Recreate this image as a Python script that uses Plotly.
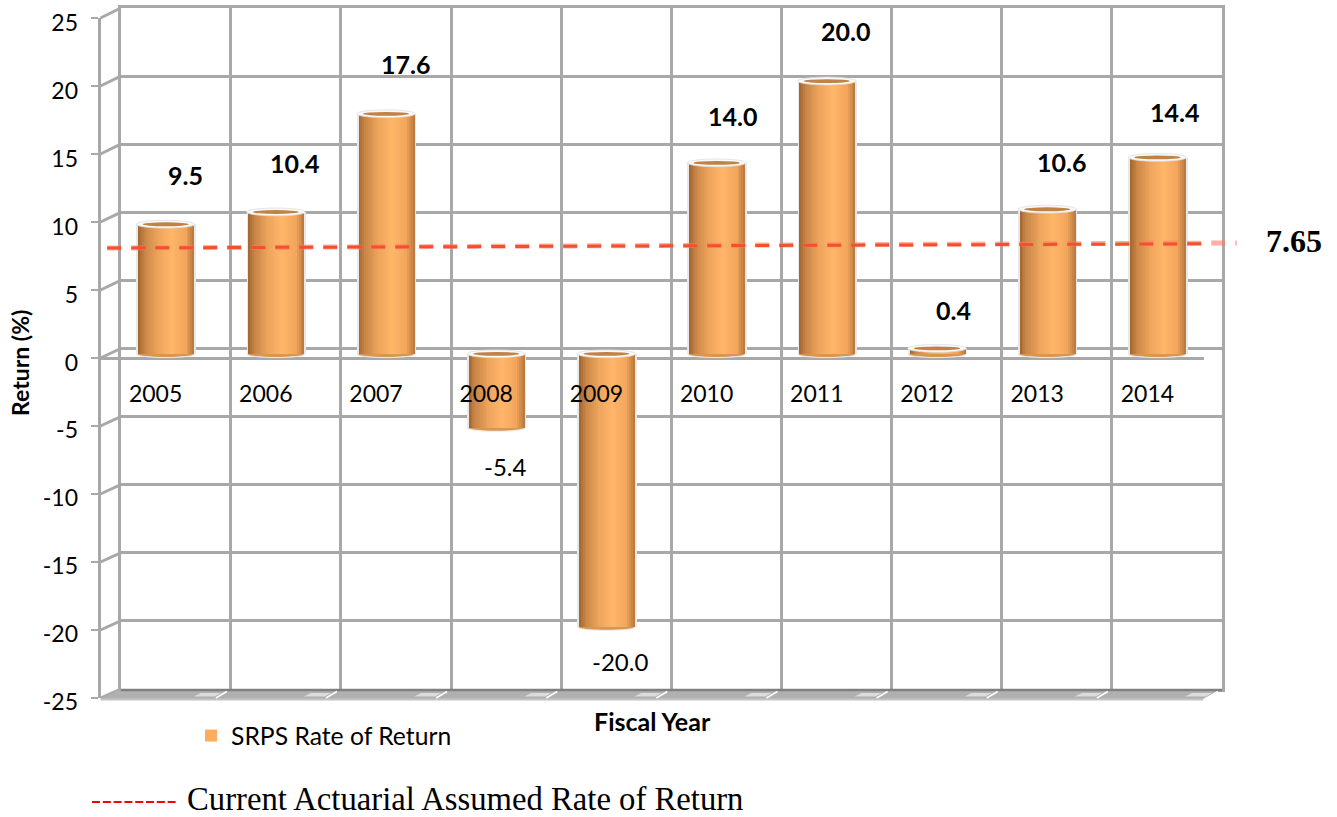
import plotly.graph_objects as go

# ---- data ----
years = ["2005", "2006", "2007", "2008", "2009", "2010", "2011", "2012", "2013", "2014"]
srps_return = [9.5, 10.4, 17.6, -5.4, -20.0, 14.0, 20.0, 0.4, 10.6, 14.4]
assumed_x = [-0.53, 9.42, 9.72]
assumed_y = [7.77, 8.08, 8.14]
y_ticks = [25, 20, 15, 10, 5, 0, -5, -10, -15, -20, -25]

# ---- style / placement ----
W, H = 1337, 817
GRID = "#a8a8a8"
GW = 3
SANS = "Lato"
SERIF = "Liberation Serif"
label_shift_x = [20, 19, 19, 9, 14, 16, 19, 16, 14, 17]
label_shift_y = [49, 49, 50, -39, -35, 47, 50, 39, 47, 46]


def X(p):
    return p / W


def Y(p):
    return 1 - p / H


def hexmix(a, b, t):
    ca = [int(a[i:i + 2], 16) for i in (1, 3, 5)]
    cb = [int(b[i:i + 2], 16) for i in (1, 3, 5)]
    return "#%02x%02x%02x" % tuple(round(p + (q - p) * t) for p, q in zip(ca, cb))


stops = [(0.0, "#a2642f"), (0.12, "#c98648"), (0.35, "#eda45c"), (0.6, "#ffb669"),
         (0.85, "#f2a65c"), (1.0, "#b5763c")]


def shade(t):
    for (p0, c0), (p1, c1) in zip(stops, stops[1:]):
        if t <= p1:
            return hexmix(c0, c1, (t - p0) / (p1 - p0))
    return stops[-1][1]


n = len(years)
xs = list(range(n))
BAR_W = 0.508
fig = go.Figure()

# back wall subplot (x/y)
fig.add_trace(go.Scatter(x=[0], y=[0], mode="none", showlegend=False, hoverinfo="skip", xaxis="x", yaxis="y"))
# front plane subplot (x2/y2)
fig.add_trace(go.Scatter(x=[0], y=[0], mode="none", showlegend=False, hoverinfo="skip", xaxis="x2", yaxis="y2"))

# cylinder bars (x3/y3): a halo, then thin strips building the horizontal shading
fig.add_trace(go.Bar(x=xs, y=srps_return, xaxis="x3", yaxis="y3", width=BAR_W + 0.03, offset=-(BAR_W + 0.03) / 2,
                     marker=dict(color="#e8e8e8", line=dict(width=0)), showlegend=False, hoverinfo="skip"))
STRIPS = 30
dw = BAR_W / STRIPS
for k in range(STRIPS):
    fig.add_trace(go.Bar(x=xs, y=srps_return, xaxis="x3", yaxis="y3", width=dw * 1.1,
                         offset=-BAR_W / 2 + k * dw, marker=dict(color=shade((k + 0.5) / STRIPS), line=dict(width=0)),
                         showlegend=False, hoverinfo="skip"))
# legend entry
fig.add_trace(go.Bar(x=[None], y=[None], xaxis="x3", yaxis="y3", name="SRPS Rate of Return",
                     marker=dict(color="#fdab5f", line=dict(width=0)), showlegend=True, hoverinfo="skip"))

# assumed-rate line, on a wider subplot (x4/y4) so it can run past the walls
fig.add_trace(go.Scatter(x=[assumed_x[0], assumed_x[-1]], y=[assumed_y[0], assumed_y[-1]], mode="lines", xaxis="x4", yaxis="y4",
                         line=dict(color="rgba(255,120,100,0.6)", width=5, dash="14px,10px"),
                         showlegend=False, hoverinfo="skip"))
fig.add_trace(go.Scatter(x=assumed_x[:2], y=assumed_y[:2], mode="lines", xaxis="x4", yaxis="y4",
                         line=dict(color="#f5502c", width=3, dash="14px,10px"),
                         showlegend=False, hoverinfo="skip"))

# label subplot (x5/y5) drawn on top of bars
fig.add_trace(go.Scatter(x=[0], y=[0], mode="none", showlegend=False, hoverinfo="skip", xaxis="x5", yaxis="y5"))

hidden = dict(showgrid=False, zeroline=False, showline=False, showticklabels=False, ticks="")
fig.update_layout(
    width=W, height=H, margin=dict(l=0, r=0, t=0, b=0, autoexpand=False),
    paper_bgcolor="white", plot_bgcolor="rgba(0,0,0,0)", barmode="overlay", bargap=0,
    font=dict(family=SANS, color="black"),
    xaxis=dict(domain=[X(120.7), X(1222)], range=[-0.5, 9.5], tick0=-0.5, dtick=1, showgrid=True, gridcolor=GRID, gridwidth=GW,
               zeroline=False, showticklabels=False, ticks="", showline=True, linecolor=GRID, linewidth=GW, mirror=True, anchor="y"),
    yaxis=dict(domain=[Y(689), Y(8)], range=[-25, 25], tick0=0, dtick=5, showgrid=True, gridcolor=GRID, gridwidth=GW,
               zeroline=False, showticklabels=False, ticks="", showline=True, linecolor=GRID, linewidth=GW, mirror=True, anchor="x"),
    xaxis2=dict(domain=[X(100.5), X(1204)], range=[-0.5, 9.52], anchor="y2", **hidden),
    yaxis2=dict(domain=[Y(698), Y(18)], range=[-25, 25], tickvals=y_ticks, anchor="x2", showgrid=False, showticklabels=False,
                zeroline=True, zerolinecolor=GRID, zerolinewidth=GW, showline=True, linecolor=GRID, linewidth=GW,
                ticks="outside", ticklen=7, tickcolor=GRID, tickwidth=2),
    xaxis3=dict(domain=[X(110.5), X(1212.5)], range=[-0.5, 9.5], anchor="y3", **hidden),
    yaxis3=dict(domain=[Y(695), Y(13)], range=[-25, 25], anchor="x3", **hidden),
    xaxis4=dict(domain=[X(100.4), X(1240.6)], range=[-0.592, 9.755], anchor="y4", **hidden),
    yaxis4=dict(domain=[Y(695), Y(13)], range=[-25, 25], anchor="x4", **hidden),
    xaxis5=dict(domain=[X(100.5), X(1202.5)], range=[-0.5, 9.5], tickmode="array", tickvals=xs, ticktext=years,
                anchor="free", position=Y(378), showgrid=False, zeroline=False, showline=False, ticks="",
                tickfont=dict(family=SANS, size=23, color="black")),
    yaxis5=dict(domain=[Y(702), Y(23)], range=[-25, 25], tickmode="array", tickvals=y_ticks, ticktext=[str(t) for t in y_ticks],
                anchor="free", position=X(78), showgrid=False, zeroline=False, showline=False, ticks="",
                tickfont=dict(family=SANS, size=23, color="black")),
    legend=dict(x=X(191), y=Y(736), xanchor="left", yanchor="middle", bgcolor="rgba(0,0,0,0)",
                font=dict(family=SANS, size=24.7, color="black")),
)

shapes = []
# connectors between front plane and back wall
for j in range(len(y_ticks)):
    yf = 18 + j * 68
    yb = 8 + j * 68.1
    shapes.append(dict(type="line", xref="paper", yref="paper", x0=X(100.5), x1=X(120.7), y0=Y(yf), y1=Y(yb),
                       line=dict(color=GRID, width=GW), layer="below"))
# floor
shapes.append(dict(type="path", xref="paper", yref="paper", layer="above", line=dict(width=0), fillcolor="#b0b0b0",
                   path=f"M{X(120.7)},{Y(689)} L{X(1222)},{Y(689)} L{X(1203)},{Y(699)} L{X(100.5)},{Y(699)} Z"))
shapes.append(dict(type="line", xref="paper", yref="paper", x0=X(120.7), x1=X(1222), y0=Y(690), y1=Y(690),
                   line=dict(color="#808080", width=2.5), layer="above"))
shapes.append(dict(type="line", xref="paper", yref="paper", x0=X(100.5), x1=X(1203), y0=Y(699.5), y1=Y(699.5),
                   line=dict(color="#c4c4c4", width=2), layer="above"))
for i in range(n):
    xr = 120.7 + (i + 1) * 110.13
    shapes.append(dict(type="path", xref="paper", yref="paper", layer="above", line=dict(width=0), fillcolor="#dcdcdc",
                       path=f"M{X(xr - 30)},{Y(693)} L{X(xr - 10)},{Y(693)} L{X(xr - 16)},{Y(696.5)} L{X(xr - 37)},{Y(696.5)} Z"))
    shapes.append(dict(type="line", xref="paper", yref="paper", x0=X(xr - 4), x1=X(xr - 15), y0=Y(691.5), y1=Y(698),
                       line=dict(color="white", width=1.5), layer="above"))
# cylinder ends computed from the data
for i, v in enumerate(srps_return):
    base_h = 0.22
    end = 0 if v > 0 else v
    shapes.append(dict(type="circle", xref="x3", yref="y3", layer="below", x0=i - BAR_W / 2 - 0.012, x1=i + BAR_W / 2 + 0.012,
                       y0=end - base_h - 0.08, y1=end + base_h, fillcolor="#e8e8e8", line=dict(width=0)))
    shapes.append(dict(type="circle", xref="x3", yref="y3", layer="below", x0=i - BAR_W / 2, x1=i + BAR_W / 2,
                       y0=end - base_h, y1=end + base_h, fillcolor="#d99650", line=dict(width=0)))
    top = v if v > 0 else 0
    shapes.append(dict(type="circle", xref="x3", yref="y3", layer="above", x0=i - BAR_W / 2 - 0.012, x1=i + BAR_W / 2 + 0.012,
                       y0=top - 0.27, y1=top + 0.3, fillcolor="#f9f9f9", line=dict(color="#dddddd", width=0.75)))
    shapes.append(dict(type="circle", xref="x3", yref="y3", layer="above", x0=i - BAR_W / 2 + 0.045, x1=i + BAR_W / 2 - 0.045,
                       y0=top - 0.13, y1=top + 0.15, fillcolor="#c08344", line=dict(width=0)))
# legend key of the assumed-rate line
shapes.append(dict(type="line", xref="paper", yref="paper", x0=X(92), x1=X(176), y0=Y(802), y1=Y(802),
                   line=dict(color="#ff0000", width=2, dash="8px,2.8px")))
fig.update_layout(shapes=shapes)

ann = []
for i, v in enumerate(srps_return):
    ann.append(dict(x=i, y=v, xref="x3", yref="y3", text=f"{v:.1f}", showarrow=False, xshift=label_shift_x[i], yshift=label_shift_y[i],
                    font=dict(family=SANS, size=25 if v > 0 else 24, color="black", weight=("bold" if v > 0 else "normal"))))
ann.append(dict(x=X(20), y=Y(363), xref="paper", yref="paper", xanchor="center", yanchor="middle", text="Return (%)", textangle=-90, showarrow=False,
                font=dict(family=SANS, size=23, color="black", weight="bold")))
ann.append(dict(x=X(652), y=Y(721), xref="paper", yref="paper", xanchor="center", yanchor="middle", text="Fiscal Year", showarrow=False,
                font=dict(family=SANS, size=25, color="black", weight="bold")))
ann.append(dict(x=X(1294), y=Y(241), xref="paper", yref="paper", xanchor="center", yanchor="middle", text="7.65", showarrow=False,
                font=dict(family=SERIF, size=32, color="black", weight="bold")))
ann.append(dict(x=X(185), y=Y(799), xref="paper", yref="paper", xanchor="left", yanchor="middle", text="Current Actuarial Assumed Rate of Return", showarrow=False,
                font=dict(family=SERIF, size=32.7, color="black")))
fig.update_layout(annotations=ann)

# the page's default body margin would push the figure off its intended position
fig.write_html("out.html", config={"displayModeBar": False}, post_script="document.body.style.margin='0';")
